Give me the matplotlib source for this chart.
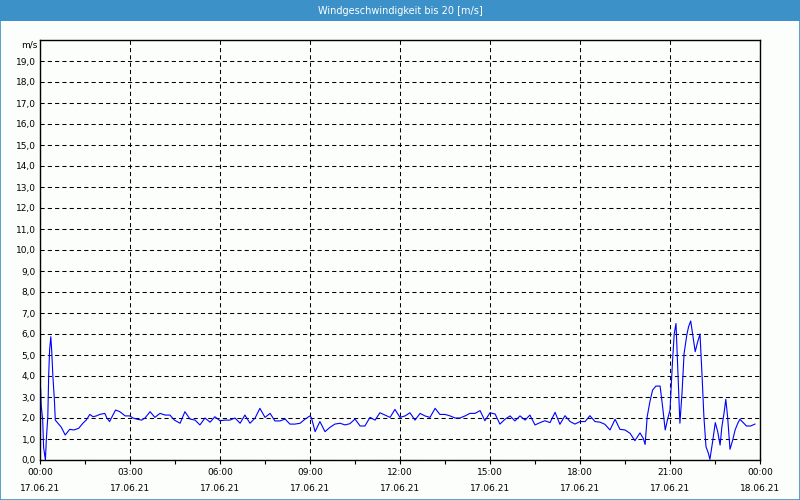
import matplotlib
matplotlib.use("Agg")
import matplotlib.pyplot as plt
from matplotlib.patches import Rectangle

# -------------------------------
# Data: hours since 17.06.21 00:00, wind speed m/s
# -------------------------------
hours = [0.02, 0.04, 0.09, 0.12, 0.18, 0.21, 0.26, 0.29, 0.32, 0.36, 0.39, 0.43,
         0.48, 0.51, 0.60, 0.71, 0.84, 0.99, 1.13, 1.29, 1.43, 1.54, 1.66, 1.77,
         1.88, 1.99, 2.16, 2.23, 2.32, 2.43, 2.52, 2.66, 2.84, 2.99, 3.10, 3.21,
         3.39, 3.50, 3.67, 3.83, 4.00, 4.17, 4.33, 4.48, 4.67, 4.83, 5.00, 5.17,
         5.33, 5.50, 5.67, 5.83, 6.00, 6.17, 6.33, 6.50, 6.67, 6.83, 7.00, 7.17,
         7.33, 7.50, 7.67, 7.83, 8.00, 8.17, 8.33, 8.50, 8.67, 8.83, 9.00, 9.05,
         9.17, 9.33, 9.50, 9.67, 9.83, 10.00, 10.17, 10.33, 10.50, 10.67, 10.83, 11.00,
         11.17, 11.33, 11.50, 11.67, 11.83, 12.00, 12.17, 12.33, 12.50, 12.67, 12.83, 13.00,
         13.17, 13.33, 13.50, 13.67, 13.83, 14.00, 14.17, 14.33, 14.50, 14.67, 14.83, 15.00,
         15.17, 15.33, 15.50, 15.67, 15.83, 16.00, 16.17, 16.33, 16.50, 16.67, 16.83, 17.00,
         17.17, 17.33, 17.50, 17.67, 17.83, 18.00, 18.17, 18.33, 18.50, 18.67, 18.83, 19.00,
         19.17, 19.33, 19.50, 19.67, 19.83, 20.00, 20.11, 20.17, 20.24, 20.33, 20.42, 20.53,
         20.67, 20.76, 20.84, 20.93, 21.00, 21.08, 21.14, 21.20, 21.27, 21.33, 21.40, 21.47,
         21.56, 21.62, 21.69, 21.76, 21.84, 21.91, 22.00, 22.07, 22.13, 22.20, 22.28, 22.33,
         22.42, 22.51, 22.59, 22.67, 22.73, 22.80, 22.86, 22.92, 23.00, 23.09, 23.17, 23.26,
         23.33, 23.44, 23.55, 23.69, 23.83]
speed = [3.40, 2.60, 1.90, 0.60, 0.00, 0.95, 2.06, 4.05, 5.24, 5.87, 5.20, 3.97,
         2.86, 1.90, 1.75, 1.56, 1.19, 1.46, 1.43, 1.51, 1.75, 1.90, 2.17, 2.06,
         2.10, 2.17, 2.22, 2.00, 1.83, 2.14, 2.38, 2.30, 2.10, 2.10, 2.00, 1.95,
         1.90, 2.00, 2.30, 2.03, 2.22, 2.14, 2.14, 1.90, 1.75, 2.30, 1.95, 1.90,
         1.67, 2.00, 1.80, 2.06, 1.87, 1.90, 1.90, 2.00, 1.75, 2.14, 1.75, 2.00,
         2.46, 2.03, 2.22, 1.86, 1.86, 1.95, 1.71, 1.71, 1.75, 1.94, 2.10, 2.00,
         1.35, 1.83, 1.35, 1.56, 1.71, 1.75, 1.67, 1.73, 1.95, 1.62, 1.62, 2.03,
         1.90, 2.25, 2.14, 2.03, 2.41, 2.03, 2.10, 2.25, 1.90, 2.22, 2.10, 2.03,
         2.46, 2.17, 2.17, 2.10, 2.00, 2.00, 2.10, 2.22, 2.22, 2.35, 1.87, 2.25,
         2.19, 1.71, 1.94, 2.10, 1.86, 2.10, 1.90, 2.14, 1.67, 1.78, 1.87, 1.78,
         2.27, 1.70, 2.11, 1.83, 1.71, 1.83, 1.83, 2.11, 1.83, 1.80, 1.70, 1.43,
         1.94, 1.46, 1.43, 1.27, 0.92, 1.29, 1.03, 0.74, 2.06, 2.78, 3.33, 3.52,
         3.52, 2.46, 1.43, 2.00, 2.38, 4.60, 6.00, 6.50, 3.97, 1.75, 3.17, 5.08,
         5.95, 6.35, 6.62, 5.95, 5.16, 5.56, 6.00, 3.97, 2.06, 0.63, 0.32, 0.03,
         0.87, 1.78, 1.35, 0.71, 1.59, 2.22, 2.89, 2.06, 0.51, 0.95, 1.43, 1.75,
         1.94, 1.78, 1.62, 1.62, 1.71]

x_major = [0, 3, 6, 9, 12, 15, 18, 21, 24]
x_labels = ["00:00\n17.06.21", "03:00\n17.06.21", "06:00\n17.06.21", "09:00\n17.06.21",
            "12:00\n17.06.21", "15:00\n17.06.21", "18:00\n17.06.21", "21:00\n17.06.21",
            "00:00\n18.06.21"]
y_ticks = list(range(0, 20))
y_labels = [f"{v},0" for v in y_ticks]

title = "Windgeschwindigkeit bis 20 [m/s]"
bar_blue = "#3c91c8"

# -------------------------------
# Figure and frame
# -------------------------------
fig = plt.figure(figsize=(8, 5), dpi=100, facecolor="#fcfefc")
fig.patches.append(Rectangle((0, 0.958), 1, 0.042, transform=fig.transFigure,
                             facecolor=bar_blue, edgecolor="none", zorder=0))
fig.patches.append(Rectangle((0.0006, 0.001), 0.9988, 0.998, transform=fig.transFigure,
                             facecolor="none", edgecolor=bar_blue, linewidth=1.2, zorder=0))
fig.text(0.5, 0.979, title, color="white", fontsize=7, ha="center", va="center")
fig.text(0.047, 0.91, "m/s", fontsize=6.5, ha="right", va="center")

ax = fig.add_axes([0.05, 0.08, 0.9, 0.84])
ax.set_facecolor("#fcfefc")
ax.plot(hours, speed, color="#0000ff", linewidth=0.8)

ax.set_xlim(0, 24)
ax.set_ylim(0, 20)
ax.set_xticks(x_major)
ax.set_xticklabels(x_labels, fontsize=6.5, linespacing=2.0)
ax.set_xticks([1.5 + 3 * i for i in range(8)], minor=True)
ax.set_yticks(y_ticks)
ax.set_yticklabels(y_labels, fontsize=6.5)
ax.tick_params(axis="y", length=0, pad=3)
ax.tick_params(axis="x", which="both", length=3, width=0.8, pad=3)

for s in ax.spines.values():
    s.set_linewidth(1.0)
    s.set_color("black")

ax.grid(True, axis="both", which="major", color="black", linewidth=0.75,
        linestyle=(0, (4, 3)))

plt.savefig("out.png", dpi=100, facecolor=fig.get_facecolor())
